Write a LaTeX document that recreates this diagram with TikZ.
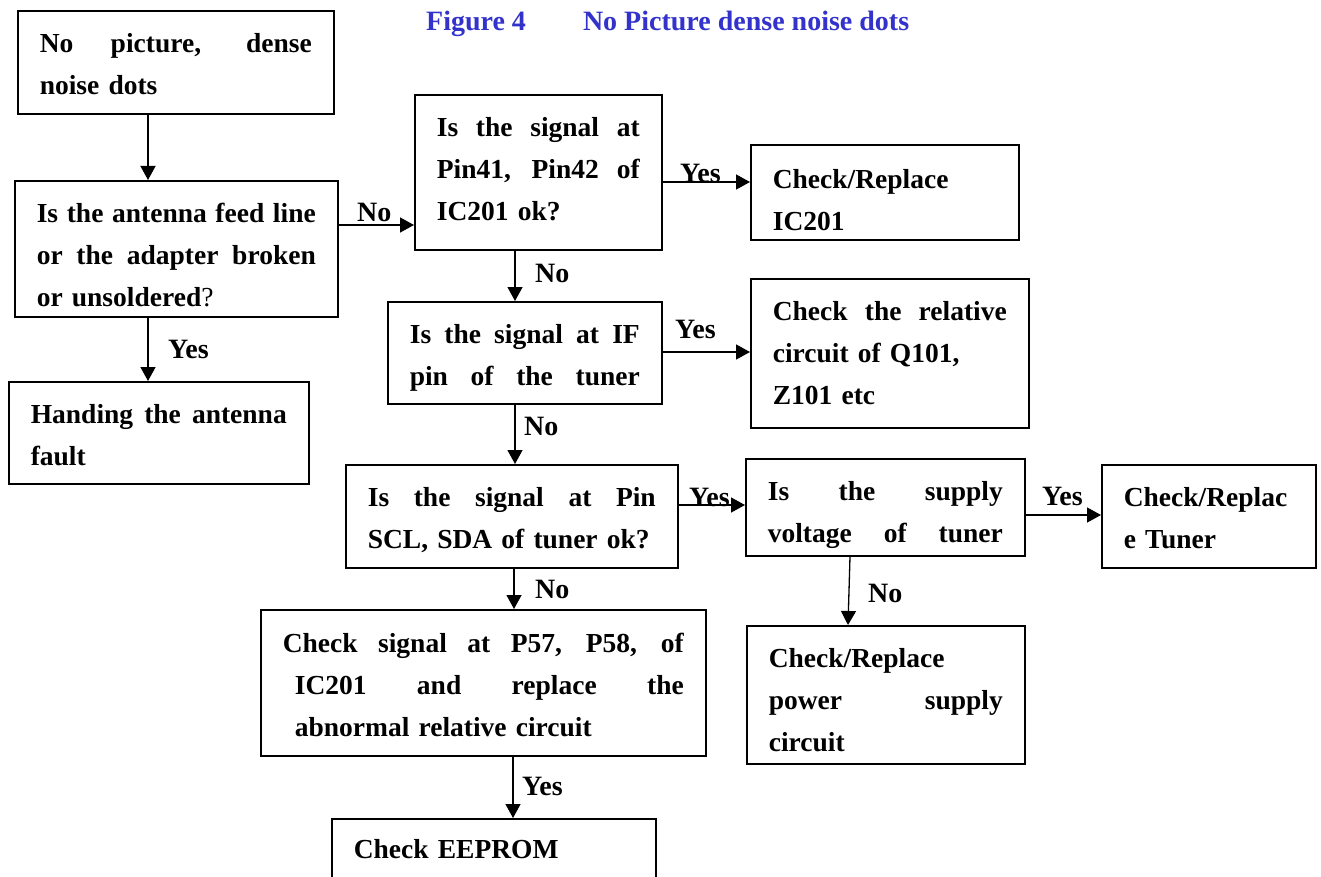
\documentclass[tikz,border=0pt]{standalone}
\usepackage{fontspec}
\setmainfont{Liberation Serif}
\usepackage{xcolor}
\usepackage{tikz}
\usetikzlibrary{arrows.meta, calc}
\definecolor{figblue}{RGB}{51,51,204}
% one justified line of a box
\newcommand{\jl}[2][\linewidth]{\leavevmode\hbox to #1{\spaceskip=0.25em plus 1fil\xspaceskip=0.25em plus 1fil\relax #2}}

\begin{document}
\begin{tikzpicture}[
  x=1pt, y=-1pt,
  box/.style={rectangle, draw, line width=1.6pt, anchor=north west,
              inner xsep=22pt, inner ysep=0pt, text height=42pt,
              align=left, font=\fontsize{27.5}{42}\selectfont\bfseries},
  lbl/.style={anchor=base west, inner sep=0pt,
              font=\fontsize{28}{42}\selectfont\bfseries},
  arrow/.style={-{Triangle[length=14pt, width=15pt]}, line width=1.3pt},
]
\path[use as bounding box] (0,0) rectangle (1321,877);
\clip (0,0) rectangle (1321,877);

% Title
\node[anchor=base west, inner sep=0pt, text=figblue,
      font=\fontsize{28}{42}\selectfont\bfseries] at (426,31) (title)
  {Figure 4\hspace*{57pt}No Picture dense noise dots};

% Left column
\node[box, text width=272pt, text depth=61pt] at (17,10)  (start)   {\jl{No picture, dense}\\noise dots};
\node[box, text width=279pt, text depth=94pt] at (14,180) (antenna) {\jl{Is the antenna feed line}\\\jl{or the adapter broken}\\or unsoldered{\mdseries ?}};
\node[box, text width=256pt, text depth=60pt] at (8,381)  (handle)  {\jl{Handing the antenna}\\fault};

% Middle column
\node[box, text width=203pt, text depth=113pt] at (414,94)  (pinic)  {\jl{Is the signal at}\\\jl{Pin41, Pin42 of}\\IC201 ok?};
\node[box, text width=230pt, text depth=60pt]  at (387,301) (ifpin)  {\jl{Is the signal at IF}\\\jl{pin of the tuner}};
\node[box, text width=288pt, text depth=61pt]  at (345,464) (sclsda) {\jl{Is the signal at Pin}\\SCL, SDA of tuner ok?};
\node[box, text width=401pt, text height=43pt, text depth=103pt] at (260,609) (pcheck)
  {\jl{Check signal at P57, P58, of}\\\hspace*{12pt}\jl[389pt]{IC201 and replace the}\\\hspace*{12pt}abnormal relative circuit};
\node[box, text width=280pt, text height=40pt, text depth=52pt] at (331,818) (eeprom) {Check EEPROM};

% Right columns
\node[box, text width=224pt, text height=44pt, text depth=51pt] at (750,144) (repic) {Check/Replace\\IC201};
\node[box, text width=234pt, text depth=107pt] at (750,278)  (qcheck)   {\jl{Check the relative}\\circuit of Q101,\\Z101 etc};
\node[box, text width=235pt, text depth=55pt]  at (745,458)  (supply)   {\jl{Is the supply}\\\jl{voltage of tuner}};
\node[box, text width=170pt, text depth=61pt]  at (1101,464) (reptuner) {Check/Replac\\e Tuner};
\node[box, text width=234pt, text depth=96pt]  at (746,625)  (reppower) {Check/Replace\\\jl{power supply}\\circuit};

% Arrows
\draw[arrow] (start.south -| 148,0)   -- (antenna.north -| 148,0);
\draw[arrow] (antenna.south -| 148,0) -- (handle.north -| 148,0);
\draw[arrow] (antenna.east |- 0,225)  -- (pinic.west |- 0,225);
\draw[arrow] (pinic.east |- 0,182)    -- (repic.west |- 0,182);
\draw[arrow] (pinic.south -| 515,0)   -- (ifpin.north -| 515,0);
\draw[arrow] (ifpin.east |- 0,352)    -- (qcheck.west |- 0,352);
\draw[arrow] (ifpin.south -| 515,0)   -- (sclsda.north -| 515,0);
\draw[arrow] (sclsda.east |- 0,505)   -- (supply.west |- 0,505);
\draw[arrow] (supply.east |- 0,515)   -- (reptuner.west |- 0,515);
\draw[arrow] (sclsda.south -| 514,0)  -- (pcheck.north -| 514,0);
\draw[arrow] (supply.south -| 850,0)  -- (reppower.north -| 848,0);
\draw[arrow] (pcheck.south -| 513,0)  -- (eeprom.north -| 513,0);

% Labels
\node[lbl] at (168,358)  (yes1) {Yes};
\node[lbl] at (357,222)  (no1)  {No};
\node[lbl] at (680,183)  (yes2) {Yes};
\node[lbl] at (535,282)  (no2)  {No};
\node[lbl] at (675,338)  (yes3) {Yes};
\node[lbl] at (524,435)  (no3)  {No};
\node[lbl] at (689,506)  (yes4) {Yes};
\node[lbl] at (1042,505) (yes5) {Yes};
\node[lbl] at (535,598)  (no4)  {No};
\node[lbl] at (868,602)  (no5)  {No};
\node[lbl] at (522,795)  (yes6) {Yes};
\end{tikzpicture}
\end{document}
